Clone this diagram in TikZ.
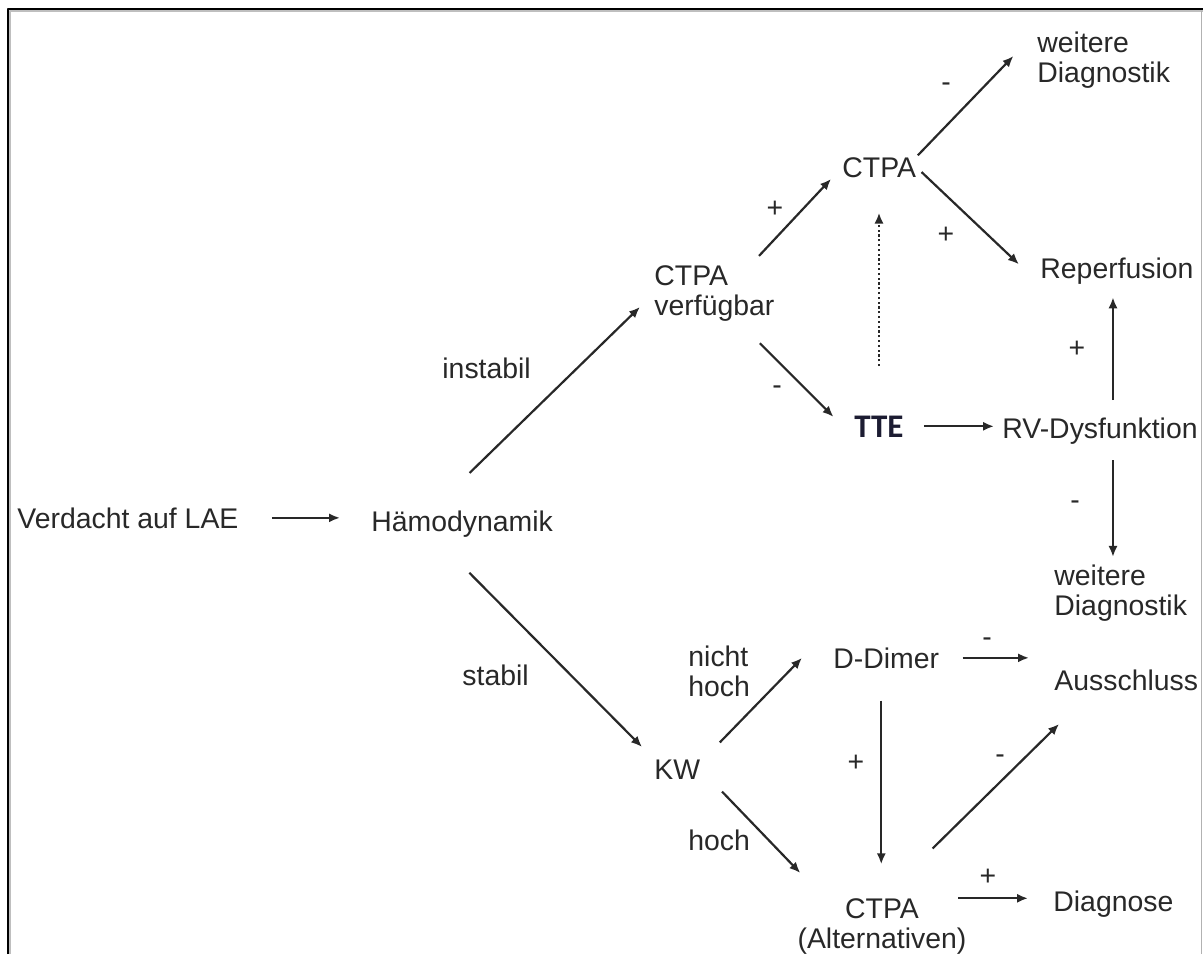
\documentclass[tikz,border=0pt]{standalone}
\usepackage{fontspec}
\setmainfont{Liberation Sans}
\newfontfamily\ttefont{Carlito}
\usetikzlibrary{arrows.meta}
\definecolor{ink}{RGB}{40,40,40}
\definecolor{ttecol}{RGB}{28,28,50}

\begin{document}
\begin{tikzpicture}[x=0.5pt, y=-0.5pt, >={Latex[length=5.5pt,width=4.6pt]}, line join=round,
    txt/.style={inner sep=0pt, anchor=base west, text=ink, font=\fontsize{14.2}{14.75}\selectfont},
    sgn/.style={inner sep=0pt, text=ink, font=\fontsize{14.2}{14.75}\selectfont},
    arr/.style={->, draw=ink, line width=1.1pt}]
  \useasboundingbox (0,0) rectangle (1203,954);

  % Frame
  \draw[black!25, line width=1pt] (10,954) -- (10,11) -- (1203,11);
  \draw[black, line width=1pt] (8,954) -- (8,9) -- (1203,9);
  \draw[black!30, line width=0.5pt] (1201,11) -- (1201,954);

  % Steps (multi-line nodes sit on the baseline of their last line)
  \node[txt] (verdacht) at (17,528) {Verdacht auf LAE};
  \node[txt] (haemo) at (371,531) {Hämodynamik};
  \node[txt, align=left] (ctpaA) at (654,315) {CTPA\\verfügbar};
  \node[txt] (ctpaB) at (842,177) {CTPA};
  \node[txt, align=left] (wdTop) at (1037,82) {weitere\\Diagnostik};
  \node[txt] (reperf) at (1040,278) {Reperfusion};
  \node[txt, text=ttecol, font=\ttefont\bfseries\fontsize{16.5}{16.5}\selectfont] (tte) at (854,437) {TTE};
  \node[txt] (rv) at (1002,438) {RV-Dysfunktion};
  \node[txt, align=left] (wdBot) at (1054,615) {weitere\\Diagnostik};
  \node[txt] (kw) at (654,779) {KW};
  \node[txt] (ddimer) at (833,668) {D-Dimer};
  \node[txt] (aussch) at (1054,690) {Ausschluss};
  \node[txt, anchor=base, align=center] (ctpaC) at (882,948) {CTPA\\(Alternativen)};
  \node[txt] (diagnose) at (1053,911) {Diagnose};

  % Branch labels
  \node[txt] (instabil) at (442,378) {instabil};
  \node[txt] (stabil) at (462,685) {stabil};
  \node[txt, align=left] (nichthoch) at (688,696) {nicht\\hoch};
  \node[txt] (hoch) at (688,850) {hoch};
  \node[sgn] (sgnAB) at (775,209) {+};
  \node[sgn] (sgnBW) at (946,87) {-};
  \node[sgn] (sgnBR) at (946,235) {+};
  \node[sgn] (sgnAT) at (777,390) {-};
  \node[sgn] (sgnRR) at (1077,349) {+};
  \node[sgn] (sgnRW) at (1075,505) {-};
  \node[sgn] (sgnDA) at (987,642) {-};
  \node[sgn] (sgnDC) at (856,763) {+};
  \node[sgn] (sgnCA) at (1000,759) {-};
  \node[sgn] (sgnCD) at (988,877) {+};

  % Arrows
  \draw[arr, shorten <=16.5pt, shorten >=15.5pt] (verdacht.east) -- (verdacht.east -| haemo.west);
  \draw[arr, shorten <=26.6pt, shorten >=9.8pt] (haemo.156) -- (ctpaA.west);
  \draw[arr, shorten <=25pt, shorten >=8.5pt] (haemo.206) -- (kw.north west);
  \draw[arr, shorten <=6.4pt, shorten >=8pt] (ctpaA.38) -- (ctpaB.west);
  \draw[arr, shorten <=15.5pt, shorten >=14.5pt] (ctpaA.310) -- (tte.south west);
  \draw[arr, shorten <=1pt, shorten >=17pt] (ctpaB.north east) -- (wdTop.north west);
  \draw[arr, shorten <=3.5pt, shorten >=14.5pt] (ctpaB.east) -- (reperf.south west);
  \draw[arr, dash pattern=on 1.1pt off 1.3pt, shorten <=24.5pt, shorten >=17.5pt] (tte.north) -- (tte.north |- ctpaB.south);
  \draw[arr, shorten <=10pt, shorten >=4pt] (tte.east) -- (tte.east -| rv.west);
  \draw[arr, shorten <=8.5pt, shorten >=6.5pt] ([xshift=-2pt]reperf.south |- rv.north) -- ([xshift=-2pt]reperf.south);
  \draw[arr, shorten <=8pt, shorten >=3.8pt] ([xshift=-2pt]reperf.south |- rv.south) -- ([xshift=-2pt]reperf.south |- wdBot.north);
  \draw[arr] ([shift={(9.6pt,8.3pt)}]kw.north east) -- ([xshift=-15.5pt]ddimer.west);
  \draw[arr, shorten <=15.5pt, shorten >=17.5pt] (kw.east) -- (ctpaC.154);
  \draw[arr, shorten <=11.5pt, shorten >=12.5pt] (ddimer.east) -- (ddimer.east -| aussch.west);
  \draw[arr, shorten <=16pt, shorten >=17pt] ([xshift=-2.5pt]ddimer.south) -- ([xshift=-2.5pt]ddimer.south |- ctpaC.north);
  \draw[arr, shorten <=35.5pt, shorten >=23.7pt] (ctpaC.north) -- (aussch.198);
  \draw[arr, shorten >=12.5pt] ([xshift=-4.2pt]ctpaC.north east) -- (ctpaC.north east -| diagnose.west);
\end{tikzpicture}
\end{document}
